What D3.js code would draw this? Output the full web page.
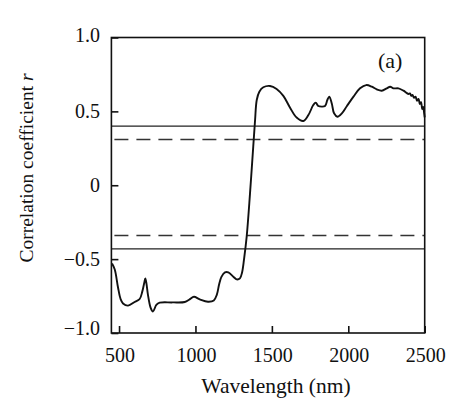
<!DOCTYPE html>
<html>
<head>
<meta charset="utf-8">
<script src="https://cdn.jsdelivr.net/npm/d3@7"></script>
<style>
  html, body { margin: 0; padding: 0; background: #fff; }
  svg { display: block; }
  text { font-family: "Liberation Serif", "Times New Roman", serif; fill: #111; }
</style>
</head>
<body>
<svg id="chart" width="452" height="411"></svg>
<script>
// ---- data ----
const wavelength = [454,472,493,510,526,559,602,635,652,665,672,680,689,707,722,744,766,850,930,962,990,1028,1082,1120,1140,1155,1170,1193,1215,1248,1270,1291,1305,1318,1335,1357,1378,1390,1401,1418,1444,1488,1531,1575,1619,1662,1706,1739,1771,1787,1804,1826,1848,1863,1876,1892,1907,1929,1958,1990,2034,2077,2117,2154,2186,2219,2252,2274,2296,2328,2361,2394,2404,2412,2420,2430,2440,2450,2460,2468,2476,2484,2490,2496,2500];
const corr = [-0.53,-0.57,-0.69,-0.77,-0.80,-0.815,-0.79,-0.77,-0.72,-0.66,-0.63,-0.67,-0.74,-0.83,-0.855,-0.81,-0.795,-0.793,-0.79,-0.772,-0.755,-0.772,-0.788,-0.78,-0.74,-0.67,-0.62,-0.59,-0.59,-0.619,-0.637,-0.63,-0.59,-0.50,-0.35,-0.055,0.26,0.44,0.577,0.633,0.663,0.672,0.652,0.605,0.525,0.458,0.435,0.475,0.543,0.559,0.536,0.532,0.536,0.577,0.60,0.554,0.487,0.464,0.487,0.535,0.60,0.656,0.678,0.667,0.649,0.64,0.656,0.667,0.656,0.656,0.64,0.618,0.622,0.605,0.612,0.592,0.60,0.572,0.584,0.55,0.562,0.515,0.53,0.49,0.46];
const thresholdsSolid = [0.40, -0.43];
const thresholdsDashed = [0.31, -0.34];
const xTicks = [500, 1000, 1500, 2000, 2500];
const yTicks = [1.0, 0.5, 0, -0.5, -1.0];
const yTickLabels = ["1.0", "0.5", "0", "\u22120.5", "\u22121.0"];
const xTitle = "Wavelength (nm)";
const yTitle = "Correlation coefficient ";
const panelLabel = "(a)";

// ---- layout ----
const svg = d3.select("#chart");
const L = 111.4, R = 424.7, T = 37.5, B = 333;
const x = d3.scaleLinear().domain([450, 2500]).range([L, R]);
const y = d3.scaleLinear().domain([-1, 1]).range([B, T]);
const ink = "#111";

// threshold lines
svg.selectAll("line.solid").data(thresholdsSolid).enter().append("line")
  .attr("x1", L).attr("x2", R).attr("y1", d => y(d)).attr("y2", d => y(d))
  .attr("stroke", "#222").attr("stroke-width", 1.3);
svg.selectAll("line.dash").data(thresholdsDashed).enter().append("line")
  .attr("x1", L + 3).attr("x2", R).attr("y1", d => y(d)).attr("y2", d => y(d))
  .attr("stroke", "#333").attr("stroke-width", 1.4)
  .attr("stroke-dasharray", "14,8");

// curve
const pts = wavelength.map((w, i) => [w, corr[i]]);
const line = d3.line().x(d => x(d[0])).y(d => y(d[1])).curve(d3.curveCatmullRom.alpha(0.5));
svg.append("path").datum(pts).attr("d", line)
  .attr("fill", "none").attr("stroke", ink).attr("stroke-width", 1.9)
  .attr("stroke-linejoin", "round");

// frame
svg.append("rect").attr("x", L).attr("y", T).attr("width", R - L).attr("height", B - T)
  .attr("fill", "none").attr("stroke", ink).attr("stroke-width", 1.6);

// x axis (inward ticks)
const xAxis = d3.axisBottom(x).tickValues(xTicks).tickSize(-7).tickPadding(0).tickFormat("");
const gx = svg.append("g").attr("transform", `translate(0,${B})`).call(xAxis);
gx.select(".domain").remove();
gx.selectAll(".tick line").attr("stroke", ink).attr("stroke-width", 1.6);
svg.selectAll("text.xl").data(xTicks).enter().append("text")
  .attr("x", d => x(d) + 1).attr("y", 362)
  .attr("text-anchor", "middle").attr("font-size", 20).text(d => d);

// y axis (inward ticks)
const yAxis = d3.axisLeft(y).tickValues(yTicks).tickSize(-7).tickFormat("");
const gy = svg.append("g").attr("transform", `translate(${L},0)`).call(yAxis);
gy.select(".domain").remove();
gy.selectAll(".tick line").attr("stroke", ink).attr("stroke-width", 1.6);
svg.selectAll("text.yl").data(yTicks).enter().append("text")
  .attr("x", 100).attr("y", d => y(d) + 6.8 + (d === -1 ? -4.5 : 0) + (d === 1 ? -2 : 0))
  .attr("text-anchor", "end").attr("font-size", 20)
  .text((d, i) => yTickLabels[i]);

// titles
svg.append("text").attr("x", 276).attr("y", 393)
  .attr("text-anchor", "middle").attr("font-size", 21.5).text(xTitle);
const yt = svg.append("text")
  .attr("transform", "translate(33,168) rotate(-90)")
  .attr("text-anchor", "middle").attr("font-size", 19.5);
yt.append("tspan").text(yTitle);
yt.append("tspan").attr("font-style", "italic").text("r");

svg.append("text").attr("x", 378).attr("y", 68).attr("font-size", 22).text(panelLabel);
</script>
</body>
</html>
